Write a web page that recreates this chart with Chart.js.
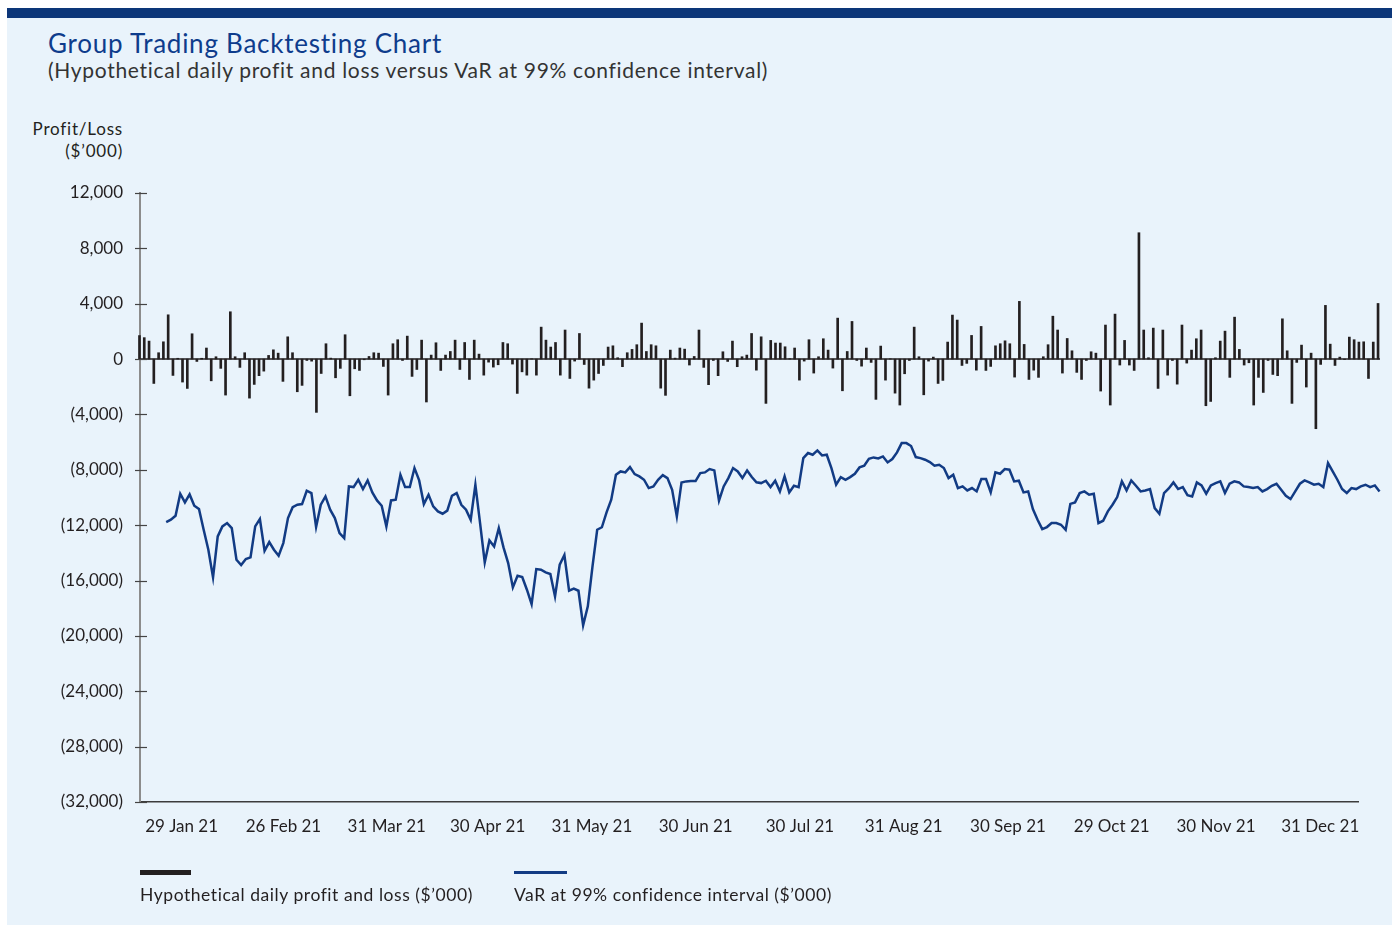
<!DOCTYPE html>
<html><head><meta charset="utf-8">
<script src="https://cdn.jsdelivr.net/npm/chart.js@4.4.1/dist/chart.umd.min.js"></script>
<style>
html,body{margin:0;padding:0;background:#fff;}
body{width:1397px;height:926px;position:relative;overflow:hidden;font-family:Lato,"Open Sans",sans-serif;}
#panel{position:absolute;left:7px;top:8px;width:1385px;height:917px;background:#E9F3FB;}
#band{position:absolute;left:7px;top:8px;width:1385px;height:10px;background:#0C3679;}
#title{position:absolute;left:48px;top:28px;font-size:26px;letter-spacing:0.75px;line-height:30px;color:#0E3C8C;white-space:nowrap;}
#subtitle{position:absolute;left:48px;top:57px;font-size:21px;letter-spacing:0.7px;line-height:26px;color:#333;white-space:nowrap;}
#ytitle{position:absolute;right:1274px;top:118px;text-align:right;font-size:17px;letter-spacing:0.8px;line-height:22px;color:#231F20;white-space:nowrap;}
canvas{position:absolute;left:0;top:0;}
.sw{position:absolute;}
.lab{position:absolute;top:884px;font-size:17.5px;letter-spacing:0.55px;line-height:22px;color:#231F20;white-space:nowrap;}
</style></head>
<body>
<div id="panel"></div><div id="band"></div>
<div id="title">Group Trading Backtesting Chart</div>
<div id="subtitle">(Hypothetical daily profit and loss versus VaR at 99% confidence interval)</div>
<div id="ytitle">Profit/Loss<br>($’000)</div>
<canvas id="c" width="1397" height="926"></canvas>
<div class="sw" style="left:140px;top:870px;width:51px;height:5px;background:#231F20"></div>
<div class="lab" style="left:140px">Hypothetical daily profit and loss ($’000)</div>
<div class="sw" style="left:514px;top:871px;width:53px;height:3px;background:#123B84"></div>
<div class="lab" style="left:514px">VaR at 99% confidence interval ($’000)</div>
<script>
// Hypothetical daily profit and loss ($'000)
const pnl = [
1700,1550,1300,-1760,460,1250,3200,-1180,60,-1660,
-2120,1830,-170,60,800,-1570,170,-670,-2600,3420,
170,-600,460,-2820,-1830,-1200,-870,265,670,430,
-1610,1610,460,-2360,-1900,-100,-150,-3850,-1040,1110,
70,-1350,-670,1760,-2650,-700,-820,-50,190,460,
430,-530,-2600,1110,1400,-100,1660,-1250,-750,1370,
-3100,290,1180,-820,290,550,1370,-750,1200,-1470,
1370,360,-1160,-220,-580,-410,1200,1110,-360,-2480,
-920,-1160,20,-1160,2310,1370,870,1200,-1160,2100,
-1400,-145,1850,-390,-2100,-1520,-1040,-460,870,960,
100,-550,460,700,1040,2600,550,1040,960,-2100,
-2620,650,70,800,720,-430,190,2100,-600,-1850,
-100,-1200,530,-170,1300,-550,170,290,1850,-800,
1610,-3200,1350,1160,1160,890,30,800,-1520,-145,
1400,-1010,170,1470,650,-650,2960,-2290,550,2720,
-100,-510,800,-240,-2910,940,-1520,20,-2460,-3320,
-1060,-100,2310,170,-2580,-145,145,-1760,-1540,1230,
3180,2820,-460,-310,1710,-800,2360,-820,-530,960,
1110,1320,1110,-1300,4170,1060,-1470,-800,-1320,170,
1040,3100,2100,-1010,1490,600,-960,-1470,-100,530,
430,-2310,2460,-3320,3250,-430,1350,-430,-820,9130,
2100,100,2240,-2120,2100,-1160,-100,-1810,2460,-290,
650,1470,2100,-3370,-3060,100,1300,2020,-1320,3030,
700,-430,-265,-3320,-1320,-2410,-100,-1110,-1200,2910,
600,-3200,-240,1010,-2020,430,-5030,-385,3880,1080,
-460,145,-30,1590,1400,1230,1250,-1400,1230,4020
];
// VaR at 99% confidence interval ($'000)
const varLine = [
-11775,-11607,-11318,-9728,-10354,-9776,-10595,-10836,-12329,-13774,
-15772,-12810,-12088,-11847,-12208,-14496,-14881,-14448,-14328,-12088,
-11558,-13846,-13220,-13774,-14207,-13292,-11486,-10700,-10523,-10475,
-9512,-9680,-12136,-10523,-9921,-10884,-11486,-12570,-12931,-9199,
-9247,-8717,-9391,-8765,-9632,-10210,-10595,-12088,-10210,-10162,
-8356,-9247,-9247,-7874,-8765,-10475,-9800,-10643,-11005,-11173,
-10950,-9873,-9680,-10523,-10884,-11607,-9078,-11847,-14689,-13100,
-13533,-12209,-13605,-14737,-16495,-15652,-15748,-16663,-17699,-15170,
-15218,-15411,-15531,-17145,-14857,-14159,-16736,-16591,-16736,-19240,
-17867,-14978,-12329,-12150,-11077,-10162,-8356,-8115,-8187,-7802,
-8308,-8476,-8717,-9319,-9199,-8717,-8380,-8597,-9439,-11366,
-8910,-8837,-8813,-8813,-8235,-8187,-7946,-8043,-10234,-9199,
-8597,-7874,-8115,-8597,-8043,-8524,-8900,-8958,-8789,-9247,
-8789,-9560,-8476,-9632,-9150,-9247,-7152,-6790,-6911,-6598,
-6959,-6911,-7874,-9078,-8524,-8717,-8524,-8283,-7826,-7706,
-7200,-7104,-7176,-7031,-7464,-7224,-6742,-6068,-6068,-6280,
-7080,-7152,-7272,-7441,-7706,-7633,-7874,-8596,-8356,-9319,
-9199,-9488,-9319,-9560,-8669,-8669,-9632,-8187,-8283,-7946,
-7994,-8837,-8789,-9632,-9560,-10836,-11606,-12281,-12136,-11847,
-11847,-11968,-12329,-10460,-10354,-9680,-9560,-9800,-9728,-11847,
-11679,-11004,-10523,-9969,-8837,-9488,-8765,-9150,-9560,-9488,
-9391,-10764,-11173,-9680,-9343,-8910,-9391,-9247,-9825,-9921,
-8910,-9126,-9728,-9126,-8958,-8837,-9680,-9006,-8837,-8910,
-9199,-9247,-9319,-9247,-9560,-9391,-9150,-9006,-9440,-9873,
-10114,-9560,-9006,-8765,-8910,-9078,-9006,-9247,-7513,-8115,
-8717,-9391,-9680,-9319,-9391,-9199,-9078,-9247,-9126,-9560
];
// x-axis tick labels and their positions (in trading-day index units)
const tickLabels = ['29 Jan 21','26 Feb 21','31 Mar 21','30 Apr 21','31 May 21','30 Jun 21','30 Jul 21','31 Aug 21','30 Sep 21','29 Oct 21','30 Nov 21','31 Dec 21'];
const tickPos = [8.6,29.9,51.5,72.6,94.4,116.1,137.9,159.6,181.4,203.1,224.9,246.7];
// y-axis range
const yMin = -32000, yMax = 12000, yStep = 4000;

const fmt = v => v < 0 ? '(' + Math.abs(v).toLocaleString('en-US') + ')' : v.toLocaleString('en-US');

const axisMarks = {
  id: 'axisMarks',
  beforeDatasetsDraw(chart) {
    const {ctx, scales:{x, y}} = chart;
    const y0 = y.getPixelForValue(0);
    ctx.save();
    ctx.strokeStyle = '#231F20'; ctx.lineWidth = 1.5;
    ctx.beginPath();
    ctx.moveTo(x.getPixelForValue(0) - 1, y0);
    ctx.lineTo(x.getPixelForValue(pnl.length - 1) + 1, y0);
    ctx.stroke();
    ctx.restore();
  },
  afterDraw(chart) {
    const {ctx, scales:{y}, chartArea} = chart;
    ctx.save();
    ctx.strokeStyle = '#444'; ctx.lineWidth = 1.2;
    y.ticks.forEach(t => {
      const py = Math.round(y.getPixelForValue(t.value)) + 0.5;
      ctx.beginPath();
      ctx.moveTo(chartArea.left - 5, py);
      ctx.lineTo(chartArea.left + 7, py);
      ctx.stroke();
    });
    ctx.restore();
  }
};

Chart.defaults.font.family = 'Lato, "Open Sans", sans-serif';
Chart.defaults.font.size = 17;
Chart.defaults.color = '#231F20';

new Chart(document.getElementById('c'), {
  data: {
    datasets: [
      {type:'bar', data: pnl.map((v,i)=>({x:i, y:v})), backgroundColor:'#231F20', barThickness:2, clip:false, xAxisID:'x', yAxisID:'y', order:2},
      {type:'line', data: varLine.map((v,i)=>({x:i, y:v})), borderColor:'#123B84', borderWidth:2.5, pointRadius:0, tension:0, clip:false, xAxisID:'x2', yAxisID:'y', order:1}
    ]
  },
  options: {
    responsive:false, animation:false,
    layout:{padding:{left:0, top:193, right:39, bottom:0}},
    plugins:{legend:{display:false}, tooltip:{enabled:false}},
    scales:{
      x:{type:'linear', offset:false, min:-0.1, max:254.6,
         border:{color:'#3C3C3C', width:1.5},
         grid:{display:false, drawTicks:false},
         ticks:{autoSkip:false, maxRotation:0, padding:14, callback:(v,i)=>tickLabels[i]},
         afterBuildTicks:s=>{ s.ticks = tickPos.map(v=>({value:v})); },
         afterFit:s=>{ s.height = 124; }},
      x2:{type:'linear', offset:false, display:false, bounds:'data',
         afterBuildTicks:s=>{ s.min = -5.59; s.max = 254.4; }},
      y:{type:'linear', min:yMin, max:yMax,
         ticks:{stepSize:yStep, padding:17, callback:v=>fmt(v)},
         border:{color:'#8C8C8C', width:2},
         grid:{display:false, drawTicks:false},
         afterFit:s=>{ s.width = 140; }}
    }
  },
  plugins:[axisMarks]
});
</script>
</body></html>
